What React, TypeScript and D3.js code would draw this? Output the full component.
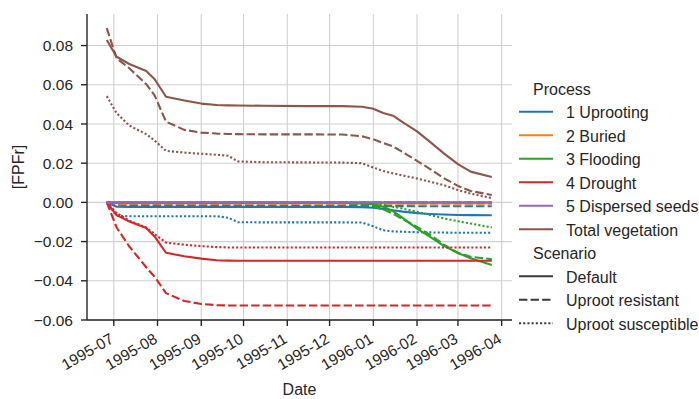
import React from "react";
import * as d3 from "d3";

// ---- data ----
const dates = [
  "1995-06-26", "1995-07-03", "1995-07-12", "1995-07-24", "1995-07-30",
  "1995-08-07", "1995-08-20", "1995-09-01", "1995-09-12", "1995-09-20",
  "1995-09-27", "1995-10-15", "1995-11-15", "1995-12-10", "1995-12-24",
  "1996-01-01", "1996-01-08", "1996-01-15", "1996-01-22", "1996-02-01",
  "1996-02-10", "1996-02-20", "1996-03-01", "1996-03-10", "1996-03-25",
];

const processes = ["1 Uprooting", "2 Buried", "3 Flooding", "4 Drought", "5 Dispersed seeds", "Total vegetation"];
const processColors = ["#1f77b4", "#ff7f0e", "#2ca02c", "#d62728", "#9467bd", "#8c564b"];
const scenarios = ["Default", "Uproot resistant", "Uproot susceptible"];

// Uprooting
const uprootDefault = [0, -0.0022, -0.0023, -0.0023, -0.0023, -0.0023, -0.0023, -0.0023, -0.0023, -0.0023, -0.0023, -0.0023, -0.0023, -0.0023, -0.0024, -0.0027, -0.0033, -0.004, -0.0047, -0.0055, -0.0059, -0.0062, -0.0064, -0.0065, -0.0066];
const uprootResistant = [0, -0.0012, -0.0013, -0.0013, -0.0014, -0.0014, -0.0014, -0.0015, -0.0015, -0.0015, -0.0016, -0.0016, -0.0017, -0.0017, -0.0018, -0.0019, -0.0019, -0.0019, -0.0019, -0.002, -0.002, -0.002, -0.002, -0.002, -0.002];
const uprootSusceptible = [0, -0.0068, -0.0071, -0.0071, -0.0071, -0.0071, -0.0071, -0.0071, -0.0071, -0.0078, -0.0101, -0.0102, -0.0102, -0.0102, -0.0103, -0.0122, -0.0142, -0.0148, -0.015, -0.0152, -0.0153, -0.0154, -0.0155, -0.0155, -0.0155];
// Buried
const buriedDefault = [0, -0.0004, -0.0004, -0.0004, -0.0004, -0.0004, -0.0004, -0.0004, -0.0004, -0.0004, -0.0004, -0.0004, -0.0004, -0.0004, -0.0004, -0.0004, -0.0004, -0.0004, -0.0004, -0.0004, -0.0004, -0.0004, -0.0004, -0.0004, -0.0004];
const buriedResistant = [0, -0.0007, -0.0007, -0.0007, -0.0007, -0.0007, -0.0007, -0.0007, -0.0007, -0.0007, -0.0007, -0.0007, -0.0007, -0.0007, -0.0007, -0.0007, -0.0007, -0.0007, -0.0007, -0.0007, -0.0007, -0.0007, -0.0007, -0.0007, -0.0007];
const buriedSusceptible = [0, -0.0003, -0.0003, -0.0003, -0.0003, -0.0003, -0.0003, -0.0003, -0.0003, -0.0003, -0.0003, -0.0003, -0.0003, -0.0003, -0.0003, -0.0003, -0.0003, -0.0003, -0.0003, -0.0003, -0.0003, -0.0003, -0.0003, -0.0003, -0.0003];
// Flooding
const floodDefault = [0, -0.0001, -0.0001, -0.0001, -0.0001, -0.0001, -0.0001, -0.0001, -0.0001, -0.0001, -0.0001, -0.0001, -0.0001, -0.0002, -0.0005, -0.001, -0.0022, -0.0045, -0.008, -0.0134, -0.0175, -0.0222, -0.0258, -0.0285, -0.032];
const floodResistant = [0, -0.0002, -0.0002, -0.0002, -0.0002, -0.0002, -0.0002, -0.0002, -0.0002, -0.0002, -0.0002, -0.0002, -0.0002, -0.0003, -0.001, -0.002, -0.0035, -0.0058, -0.0086, -0.0125, -0.0165, -0.0215, -0.0258, -0.0277, -0.029];
const floodSusceptible = [0, -0.0001, -0.0001, -0.0001, -0.0001, -0.0001, -0.0001, -0.0001, -0.0001, -0.0001, -0.0001, -0.0001, -0.0001, -0.0001, -0.0002, -0.0006, -0.0012, -0.0022, -0.0032, -0.0048, -0.0064, -0.0082, -0.0096, -0.0108, -0.0128];
// Drought
const droughtDefault = [0, -0.0065, -0.0098, -0.0131, -0.0175, -0.0257, -0.0275, -0.0287, -0.0295, -0.0297, -0.0298, -0.0298, -0.0298, -0.0298, -0.0298, -0.0298, -0.0298, -0.0298, -0.0298, -0.0298, -0.0298, -0.0298, -0.0298, -0.0298, -0.0298];
const droughtResistant = [0, -0.0128, -0.0225, -0.0331, -0.038, -0.0463, -0.0503, -0.0518, -0.0524, -0.0526, -0.0526, -0.0526, -0.0526, -0.0526, -0.0526, -0.0526, -0.0526, -0.0526, -0.0526, -0.0526, -0.0526, -0.0526, -0.0526, -0.0526, -0.0526];
const droughtSusceptible = [0, -0.0055, -0.0093, -0.0128, -0.0162, -0.0205, -0.0216, -0.0223, -0.0228, -0.023, -0.023, -0.023, -0.023, -0.023, -0.023, -0.023, -0.023, -0.023, -0.023, -0.023, -0.023, -0.023, -0.023, -0.023, -0.023];
// Dispersed seeds
const seedsDefault = [0, 0, 0, 0, 0, 0, 0, 0, 0, 0, 0, 0, 0, 0, 0, 0, 0, 0, 0, 0, 0, 0, 0, 0, 0];
const seedsResistant = [0, 0, 0, 0, 0, 0, 0, 0, 0, 0, 0, 0, 0, 0, 0, 0, 0, 0, 0, 0, 0, 0, 0, 0, 0];
const seedsSusceptible = [0, 0, 0, 0, 0, 0, 0, 0, 0, 0, 0, 0, 0, 0, 0, 0, 0, 0, 0, 0, 0, 0, 0, 0, 0];
// Total vegetation
const totalDefault = [0.0828, 0.0743, 0.0706, 0.067, 0.0628, 0.0539, 0.052, 0.0504, 0.0497, 0.0495, 0.0494, 0.0493, 0.0491, 0.0491, 0.0488, 0.0478, 0.0456, 0.0442, 0.0408, 0.0362, 0.031, 0.025, 0.0195, 0.0157, 0.013];
const totalResistant = [0.0889, 0.0735, 0.0684, 0.0603, 0.0545, 0.0412, 0.037, 0.0356, 0.0351, 0.0349, 0.0348, 0.0347, 0.0347, 0.0346, 0.0337, 0.0322, 0.0303, 0.0285, 0.0256, 0.0212, 0.0171, 0.0124, 0.0084, 0.0058, 0.0038];
const totalSusceptible = [0.0542, 0.0455, 0.0392, 0.0348, 0.0315, 0.0263, 0.0254, 0.0248, 0.0243, 0.0238, 0.0209, 0.0205, 0.0204, 0.0203, 0.02, 0.0178, 0.016, 0.0148, 0.0137, 0.0122, 0.0106, 0.0088, 0.0063, 0.0045, 0.0022];

const seriesTable = [
  [uprootDefault, uprootResistant, uprootSusceptible],
  [buriedDefault, buriedResistant, buriedSusceptible],
  [floodDefault, floodResistant, floodSusceptible],
  [droughtDefault, droughtResistant, droughtSusceptible],
  [seedsDefault, seedsResistant, seedsSusceptible],
  [totalDefault, totalResistant, totalSusceptible],
];

const yTicks = [-0.06, -0.04, -0.02, 0.0, 0.02, 0.04, 0.06, 0.08];
const xTickDates = ["1995-07-01", "1995-08-01", "1995-09-01", "1995-10-01", "1995-11-01", "1995-12-01", "1996-01-01", "1996-02-01", "1996-03-01", "1996-04-01"];

// ---- layout ----
const W = 699, H = 399;
const LEFT = 87, RIGHT = 512, TOP = 14, BOTTOM = 320;
const LW = 2.1;
const dashFor = [null, `${4 * LW},${1.5 * LW}`, `${LW},${LW}`];
const FONT = "'Liberation Sans', Arial, sans-serif";
const TXT = "#262626";
const FS = 15.5;

const parse = (s: string) => {
  const [y, m, d] = s.split("-").map(Number);
  return new Date(Date.UTC(y, m - 1, d));
};

export default function App() {
  const x = d3.scaleUtc()
    .domain([new Date(Date.UTC(1995, 5, 12)), new Date(Date.UTC(1996, 3, 8, 8))])
    .range([LEFT, RIGHT]);
  const y = d3.scaleLinear().domain([-0.06, 0.0961]).range([BOTTOM, TOP]);
  const dts = dates.map(parse);
  const line = d3.line<number>().x((_, i) => x(dts[i])).y((v) => y(v));
  const fmtY = d3.format(".2f");
  const fmtX = d3.utcFormat("%Y-%m");
  const xt = xTickDates.map(parse);

  const legendX = 519;
  const rowH = 23.5;
  const row0 = 111.7;
  const legendRows: any[] = [];
  legendRows.push({ title: "Process", y: row0 - rowH });
  processes.forEach((p, i) => legendRows.push({ label: p, color: processColors[i], dash: null, y: row0 + i * rowH }));
  legendRows.push({ title: "Scenario", y: row0 + 6 * rowH });
  scenarios.forEach((s, i) => legendRows.push({ label: s, color: "#3b3b3b", dash: dashFor[i], y: row0 + (7 + i) * rowH }));

  return (
    <svg width={W} height={H} style={{ position: "absolute", left: 0, top: 0, background: "#fff" }}
      fontFamily={FONT}>
      {/* grid */}
      {xt.map((d, i) => (
        <line key={"gx" + i} x1={x(d)} x2={x(d)} y1={TOP} y2={BOTTOM} stroke="#d0d0d0" strokeWidth={1.1} />
      ))}
      {yTicks.map((t, i) => (
        <line key={"gy" + i} x1={LEFT} x2={RIGHT} y1={y(t)} y2={y(t)} stroke="#d0d0d0" strokeWidth={1.1} />
      ))}
      {/* lines */}
      {seriesTable.map((group, pi) =>
        group.map((vals, si) => (
          <path key={`s${pi}-${si}`} d={line(vals) || ""} fill="none" stroke={processColors[pi]}
            strokeWidth={LW} strokeDasharray={dashFor[si] || undefined} strokeLinejoin="round" />
        ))
      )}
      {/* spines */}
      <line x1={LEFT} x2={LEFT} y1={TOP} y2={BOTTOM} stroke={TXT} strokeWidth={1.4} />
      <line x1={LEFT} x2={RIGHT} y1={BOTTOM} y2={BOTTOM} stroke={TXT} strokeWidth={1.4} />
      {/* y ticks */}
      {yTicks.map((t, i) => (
        <g key={"yt" + i}>
          <line x1={LEFT - 6} x2={LEFT} y1={y(t)} y2={y(t)} stroke={TXT} strokeWidth={1.4} />
          <text x={LEFT - 14} y={y(t)} dy="0.36em" textAnchor="end" fontSize={FS} fill={TXT}>{fmtY(t)}</text>
        </g>
      ))}
      {/* x ticks */}
      {xt.map((d, i) => (
        <g key={"xt" + i}>
          <line x1={x(d)} x2={x(d)} y1={BOTTOM} y2={BOTTOM + 6} stroke={TXT} strokeWidth={1.4} />
          <text transform={`translate(${x(d) + 1},${BOTTOM + 22}) rotate(-30)`} textAnchor="end" fontSize={FS} fill={TXT}>{fmtX(d)}</text>
        </g>
      ))}
      {/* axis labels */}
      <text x={(LEFT + RIGHT) / 2} y={395} textAnchor="middle" fontSize={16} fill={TXT}>Date</text>
      <text transform={`translate(24,${(TOP + BOTTOM) / 2}) rotate(-90)`} textAnchor="middle" fontSize={16} fill={TXT}>[FPFr]</text>
      {/* legend */}
      {legendRows.map((r, i) =>
        r.title ? (
          <text key={"lg" + i} x={533} y={r.y + 6.3} fontSize={16} fill={TXT}>{r.title}</text>
        ) : (
          <g key={"lg" + i}>
            <line x1={legendX} x2={legendX + 34} y1={r.y} y2={r.y} stroke={r.color} strokeWidth={LW}
              strokeDasharray={r.dash || undefined} />
            <text x={566} y={r.y + 6.3} fontSize={16} fill={TXT}>{r.label}</text>
          </g>
        )
      )}
    </svg>
  );
}
